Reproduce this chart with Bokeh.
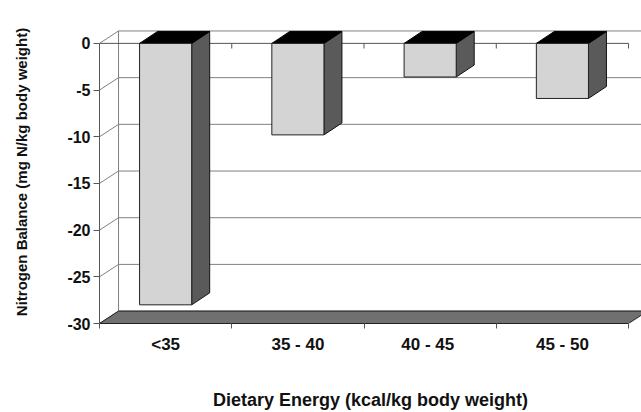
from bokeh.plotting import figure
from bokeh.models import Range1d, FixedTicker
from bokeh.embed import file_html
from bokeh.resources import INLINE

# ---- data ----
categories = ["<35", "35 - 40", "40 -  45", "45 - 50"]
values = [-28.0, -9.8, -3.6, -5.9]
y_ticks = [-30, -25, -20, -15, -10, -5, 0]
x_title = "Dietary Energy (kcal/kg body weight)"
y_title = "Nitrogen Balance (mg N/kg body weight)"

# ---- style constants (pseudo-3D depth offsets in data units) ----
WDX, WDY = 0.144, 1.33    # wall / floor depth
BDX, BDY = 0.136, 1.28    # bar depth
HW = 0.197                # half bar width
YMIN, YMAX = -30, 0
N = len(categories)
FONT = "Liberation Sans"
GRID = "#808080"

p = figure(width=641, height=412, output_backend="svg", toolbar_location=None,
           x_range=Range1d(0, 4.098), y_range=Range1d(-30, 2.45),
           min_border_left=99, min_border_right=0, min_border_top=20,
           min_border_bottom=88)
p.xgrid.visible = False
p.ygrid.visible = False
p.outline_line_color = None
p.background_fill_color = "white"
p.border_fill_color = "white"

xend = p.x_range.end

# back wall gridlines
p.segment(x0=[WDX] * len(y_ticks), y0=[v + WDY for v in y_ticks],
          x1=[xend + 1] * len(y_ticks), y1=[v + WDY for v in y_ticks],
          line_color=GRID, line_width=1)
# side wall diagonals
p.segment(x0=[0] * len(y_ticks), y0=y_ticks,
          x1=[WDX] * len(y_ticks), y1=[v + WDY for v in y_ticks],
          line_color=GRID, line_width=1)
# back-left vertical edge
p.segment(x0=[WDX], y0=[YMIN + WDY], x1=[WDX], y1=[YMAX + WDY],
          line_color=GRID, line_width=1)

# floor
p.patch(x=[0, N, N + WDX, WDX], y=[YMIN, YMIN, YMIN + WDY, YMIN + WDY],
        fill_color="#707070", line_color="#222222", line_width=1)

# category axis line at zero (front plane) with its ticks
p.segment(x0=[0], y0=[0], x1=[N], y1=[0], line_color="#555555", line_width=1)
p.segment(x0=list(range(1, N + 1)), y0=[0] * N,
          x1=list(range(1, N + 1)), y1=[-0.55] * N,
          line_color="#555555", line_width=1)

# bars
fx, fy, tx, ty, sx, sy = [], [], [], [], [], []
for i, v in enumerate(values):
    x0, x1 = i + 0.5 - HW, i + 0.5 + HW
    fx.append([x0, x1, x1, x0]); fy.append([0, 0, v, v])
    tx.append([x0, x1, x1 + BDX, x0 + BDX]); ty.append([0, 0, BDY, BDY])
    sx.append([x1, x1 + BDX, x1 + BDX, x1]); sy.append([0, BDY, v + BDY, v])
p.patches(xs=sx, ys=sy, fill_color="#5a5a5a", line_color="#111111", line_width=1)
p.patches(xs=tx, ys=ty, fill_color="#000000", line_color="#000000", line_width=1)
p.patches(xs=fx, ys=fy, fill_color="#d4d4d4", line_color="#222222", line_width=1)

# y axis
ya = p.yaxis[0]
ya.ticker = FixedTicker(ticks=y_ticks)
ya.bounds = (YMIN, YMAX)
ya.major_label_overrides = {t: str(t) for t in y_ticks}
ya.axis_line_color = "#555555"
ya.major_tick_line_color = "#555555"
ya.major_tick_out = 6
ya.major_tick_in = 0
ya.minor_tick_line_color = None
ya.major_label_standoff = 3
ya.major_label_text_font = FONT
ya.major_label_text_font_style = "bold"
ya.major_label_text_font_size = "16px"
ya.major_label_text_color = "#111111"
ya.axis_label = y_title
ya.axis_label_text_font = FONT
ya.axis_label_text_font_style = "bold"
ya.axis_label_text_font_size = "15px"
ya.axis_label_text_color = "#111111"
ya.axis_label_standoff = 34

# x axis
xa = p.xaxis[0]
centers = [i + 0.5 for i in range(N)]
xa.ticker = FixedTicker(ticks=centers, minor_ticks=list(range(N + 1)))
xa.major_label_overrides = {c: lab for c, lab in zip(centers, categories)}
xa.bounds = (0, N)
xa.axis_line_color = "#222222"
xa.major_tick_line_color = None
xa.major_tick_out = 5
xa.major_tick_in = 0
xa.minor_tick_line_color = "#555555"
xa.minor_tick_out = 5
xa.minor_tick_in = 0
xa.major_label_standoff = 6
xa.major_label_text_font = FONT
xa.major_label_text_font_style = "bold"
xa.major_label_text_font_size = "17px"
xa.major_label_text_color = "#111111"
xa.axis_label = x_title
xa.axis_label_text_font = FONT
xa.axis_label_text_font_style = "bold"
xa.axis_label_text_font_size = "18px"
xa.axis_label_text_color = "#111111"
xa.axis_label_standoff = 33

open("out.html", "w").write(file_html(p, INLINE))
